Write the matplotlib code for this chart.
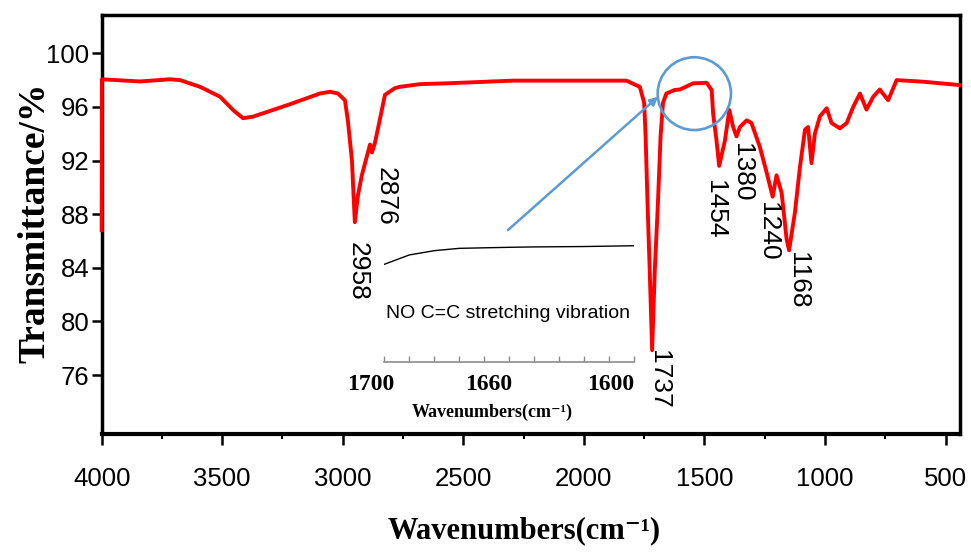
import matplotlib
matplotlib.use("Agg")
import matplotlib.pyplot as plt
import matplotlib.patches as patches
import matplotlib.transforms as mtransforms
from matplotlib.ticker import FixedLocator, MultipleLocator

plt.rcParams['font.family'] = ['Liberation Sans', 'DejaVu Sans']

# FTIR spectrum
wavenumber = [4000, 3999, 3841, 3717, 3675, 3592, 3509, 3455, 3414, 3373, 3219,
              3095, 3053, 3020, 2991, 2979, 2962, 2950, 2937, 2921, 2887, 2879,
              2867, 2855, 2825, 2784, 2763, 2680, 2569, 2294, 2016, 1823, 1781,
              1768, 1750, 1744, 1736, 1727, 1717, 1706, 1693, 1682, 1672, 1658,
              1624, 1602, 1547, 1491, 1470, 1464, 1450, 1439, 1415, 1397, 1381,
              1367, 1353, 1325, 1305, 1270, 1242, 1217, 1201, 1180, 1159, 1149,
              1125, 1104, 1083, 1070, 1056, 1042, 1021, 993, 973, 938, 910, 883,
              855, 828, 800, 773, 738, 703, 593, 441]
transmittance = [86.8, 98.06, 97.9, 98.06, 98.0, 97.5, 96.76, 95.77, 95.16, 95.27, 96.2,
                 97.0, 97.13, 97.0, 96.5, 95.0, 92.0, 87.4, 89.4, 90.9, 93.2, 92.6,
                 93.3, 94.3, 96.9, 97.4, 97.5, 97.7, 97.76, 97.96, 97.96, 97.96, 97.6,
                 97.5, 96.3, 93.8, 88.8, 83.8, 77.85, 83.8, 88.8, 93.8, 96.3, 97.0,
                 97.26, 97.3, 97.76, 97.8, 97.26, 95.5, 93.5, 91.6, 93.5, 95.77, 94.5,
                 93.8, 94.5, 95.0, 94.8, 93.0, 91.1, 89.3, 90.9, 89.6, 86.1, 85.3,
                 88.1, 91.5, 94.3, 94.5, 91.8, 94.0, 95.3, 95.9, 94.8, 94.4, 94.8, 96.0,
                 97.0, 95.8, 96.76, 97.3, 96.5, 98.0, 97.88, 97.63]

# peak labels and where they sit (wavenumber, transmittance of label top)
peak_labels = ['2958', '2876', '1737', '1454', '1380', '1240', '1168']
peak_x = [2939, 2821, 1689, 1458, 1345, 1237, 1112]
peak_y = [85.94, 91.54, 77.86, 90.54, 93.28, 88.93, 85.19]

# inset: zoom of the 1700-1600 region
inset_wn = [1700, 1690, 1680, 1670, 1660, 1650, 1640, 1620, 1600]
inset_t = [97.51, 98.23, 98.56, 98.74, 98.78, 98.82, 98.85, 98.88, 98.94]

y_ticks = [100, 96, 92, 88, 84, 80, 76]
x_ticks = [4000, 3500, 3000, 2500, 2000, 1500, 1000, 500]
inset_ticks = [1700, 1660, 1600]

BLUE = '#5b9bd5'
SERIF = ['Liberation Serif', 'DejaVu Serif']
XLABEL = 'Wavenumbers(cm\u207b\u00b9)'

fig = plt.figure(figsize=(9.71, 5.52), dpi=100)
ax = fig.add_axes([0.1047, 0.2138, 0.8840, 0.7591])

ax.plot(wavenumber, transmittance, color='red', lw=2.8,
        solid_joinstyle='round', zorder=3, clip_on=False)

ax.set_xlim(4000, 440)
ax.set_ylim(71.6, 102.86)
ax.set_xticks(x_ticks)
ax.xaxis.set_minor_locator(FixedLocator([3750, 3250, 2750, 2250, 1750, 1250, 750]))
ax.set_yticks(y_ticks)

for side in ['left', 'right', 'top']:
    ax.spines[side].set_linewidth(2.5)
ax.spines['bottom'].set_linewidth(3)

ax.tick_params(axis='x', which='major', direction='out', length=8, width=1.8,
               pad=16, labelsize=18.5)
ax.tick_params(axis='x', which='minor', direction='out', length=3.5, width=1.5)
ax.tick_params(axis='y', which='major', direction='out', length=7, width=1.8,
               pad=2, labelsize=18.5)

ax.set_xlabel(XLABEL, family=SERIF, fontweight='bold', fontsize=22)
ax.xaxis.set_label_coords(0.492, -0.197)
ax.set_ylabel('Transmittance/%', family=SERIF, fontweight='bold',
              fontsize=27, va='center')
ax.yaxis.set_label_coords(-0.0777, 0.5036)

for lab, px, py in zip(peak_labels, peak_x, peak_y):
    ax.text(px, py, lab, rotation=270, ha='center', va='top', fontsize=19)

# circle around the 1700-1600 region and arrow from the inset
circ = patches.Ellipse((1542, 96.99), 304, 5.43, fill=False,
                       edgecolor=BLUE, lw=1.9, zorder=4)
ax.add_patch(circ)
ax.annotate('', xy=(1692, 96.76), xytext=(2315, 86.81),
            arrowprops=dict(arrowstyle='-|>', color=BLUE, lw=1.8,
                            mutation_scale=12, shrinkA=0, shrinkB=0),
            zorder=4)

# inset
ins = fig.add_axes([0.39578, 0.34475, 0.25716, 0.23496])
ins.patch.set_alpha(0)
ins.plot(inset_wn, inset_t, color='black', lw=1)
ins.set_xlim(1700, 1600)
ins.set_ylim(90, 100)
for side in ['left', 'right', 'top']:
    ins.spines[side].set_visible(False)
ins.spines['bottom'].set_color('#8c8c8c')
ins.spines['bottom'].set_linewidth(1.2)
ins.set_yticks([])
ins.set_xticks(inset_ticks)
ins.xaxis.set_minor_locator(MultipleLocator(10))
ins.tick_params(axis='x', which='both', direction='in', length=4, width=1,
                color='#8c8c8c', pad=9, labelsize=17)
# the reference sets the outer inset labels slightly left of their ticks
shifts = [-10, 3, -17]
for t, dx in zip(ins.get_xticklabels(), shifts):
    t.set_family(SERIF)
    t.set_fontweight('bold')
    t.set_transform(t.get_transform() +
                    mtransforms.ScaledTranslation(dx / 72, 0, fig.dpi_scale_trans))
ins.set_xlabel(XLABEL, family=SERIF, fontweight='bold', fontsize=13)
ins.xaxis.set_label_coords(0.431, -0.32)
ins.text(1650.3, 93.75, 'NO C=C stretching vibration', ha='center', va='center',
         fontsize=14)

fig.savefig('out.png', dpi=100)
